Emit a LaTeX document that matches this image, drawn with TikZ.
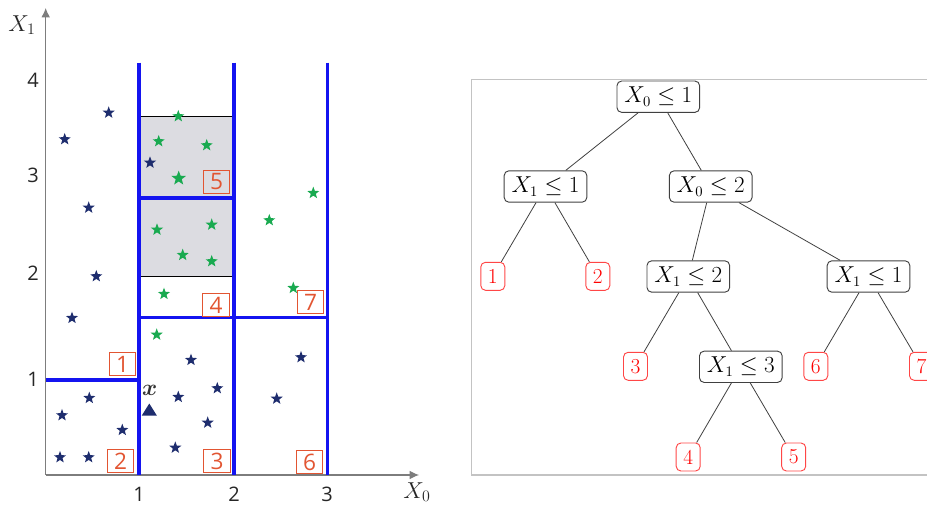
\documentclass[tikz,border=0pt]{standalone}
\usepackage{fontspec}
\usepackage{bm}
\newfontfamily\osans{Open Sans}
\usetikzlibrary{shapes.geometric,arrows.meta}
\definecolor{blueline}{RGB}{20,20,240}
\definecolor{navy}{RGB}{30,45,110}
\definecolor{greenst}{RGB}{25,170,80}
\definecolor{regred}{RGB}{226,85,50}
\definecolor{leafred}{RGB}{255,70,70}
\definecolor{boxgray}{RGB}{220,220,225}
\definecolor{axisgray}{RGB}{125,125,125}
\definecolor{framegray}{RGB}{195,195,195}
\tikzset{
  split/.style={draw=blueline, line width=2.3pt},
  navystar/.style={star, star points=5, star point ratio=2.4, fill=navy, minimum size=9.5pt, inner sep=0pt},
  greenstar/.style={star, star points=5, star point ratio=2.4, fill=greenst, minimum size=9.5pt, inner sep=0pt},
  regbox/.style={draw=regred, line width=0.9pt, text=regred, font=\osans\fontsize{17}{17}\selectfont, minimum width=20pt, minimum height=17pt, inner sep=0pt},
  ticklab/.style={font=\osans\fontsize{15}{15}\selectfont, text=black!85},
  axislab/.style={font=\fontsize{18}{18}\selectfont, text=black!85},
  axisline/.style={draw=axisgray, line width=0.8pt, -{Latex[length=7pt,width=6.5pt]}},
  tnode/.style={draw=black!75, rounded corners=3.5pt, line width=0.7pt, font=\fontsize{16}{19}\selectfont, minimum height=23.5pt, inner xsep=5.5pt, inner ysep=0pt},
  leaf/.style={draw=leafred, text=red, rounded corners=3.5pt, line width=0.7pt, minimum width=18pt, minimum height=21pt, inner sep=0pt, font=\fontsize{16}{19}\selectfont},
  edge/.style={draw=black!75, line width=0.6pt},
  xlabel/.style={font=\fontsize{16}{16}\selectfont, text=black!80}
}
\begin{document}
\begin{tikzpicture}[x=0.75pt,y=-0.75pt]
\useasboundingbox (0,0) rectangle (927,506);
% ---------- left: partition plot ----------
\fill[boxgray] (140.3,116.3) rectangle (233.7,276);
\draw[black, line width=0.7pt] (140.3,116.3) rectangle (233.7,276);
% axes
\coordinate (o) at (45.7,475);
\coordinate (ytop) at (45.7,8);
\coordinate (xend) at (419,475);
\draw[axisline] (o) -- (ytop);
\draw[axisline] (o) -- (xend);
% splits
\draw[split] (139,62.7) -- (139,475);
\draw[split] (234,62.7) -- (234,475);
\draw[split] (327.3,62.7) -- (327.3,475);
\draw[split] (45.7,380) -- (139,380);
\draw[split] (139,317.7) -- (327.3,317.7);
\draw[split] (139,198) -- (234,198);
% tick labels
\node[ticklab] (t1) at (139,494) {1};
\node[ticklab] (t2) at (234,494) {2};
\node[ticklab] (t3) at (327,494) {3};
\node[ticklab] (y1) at (33,379) {1};
\node[ticklab] (y2) at (33,273) {2};
\node[ticklab] (y3) at (33,175) {3};
\node[ticklab] (y4) at (33,80) {4};
\node[axislab] (lx0) at (417,492) {$X_0$};
\node[axislab] (lx1) at (22,25) {$X_1$};
% navy stars
\foreach \px/\py [count=\i] in {108.7/112.7, 64.7/139.3, 88.7/207.7, 96.3/276.3, 72/318, 89.3/398, 62/415.3, 122.3/430, 60/457.3, 88.7/457.3, 191/360, 217.3/388.3, 178.3/397, 207.7/422.7, 175.3/447.7, 150/162.7, 301/357.3, 276.7/398.7}
  {\node[navystar] (n\i) at (\px,\py) {};}
% green stars
\foreach \px/\py [count=\i] in {178.3/116.3, 158.7/141.3, 206.7/145.3, 157/229.7, 211.7/224.7, 182.7/255, 211.7/261.3, 164/294, 156.7/334.7, 269.3/220.3, 313.3/193, 293.3/288}
  {\node[greenstar] (g\i) at (\px,\py) {};}
\node[greenstar, minimum size=11.5pt] (gbig) at (178.7,178.3) {};
% query point
\fill[navy] (141.8,415.5) -- (156.8,415.5) -- (149.3,403.5) -- cycle;
\node[xlabel] (xlab) at (149.7,390) {$\bm{x}$};
% region labels
\node[regbox] (r1) at (122.5,364) {1};
\node[regbox] (r2) at (120.5,461) {2};
\node[regbox] (r3) at (217,461) {3};
\node[regbox] (r4) at (216,305) {4};
\node[regbox] (r5) at (216.5,182) {5};
\node[regbox] (r6) at (309.5,462) {6};
\node[regbox] (r7) at (310.5,302) {7};
% ---------- right: tree ----------
\draw[framegray, line width=0.8pt] (930,79.3) -- (471.3,79.3) -- (471.3,475) -- (930,475);
\node[tnode] (root) at (658.3,96.7) {$X_0\leq 1$};
\node[tnode] (a) at (545.5,186.5) {$X_1\leq 1$};
\node[tnode] (b) at (710.7,186.5) {$X_0\leq 2$};
\node[tnode] (c) at (688.3,276.5) {$X_1\leq 2$};
\node[tnode] (d) at (868.5,276.5) {$X_1\leq 1$};
\node[tnode] (e) at (740.8,366.8) {$X_1\leq 3$};
\node[leaf] (l1) at (492.8,276.3) {1};
\node[leaf] (l2) at (597.8,276.3) {2};
\node[leaf] (l3) at (635.5,366.3) {3};
\node[leaf] (l6) at (815.8,366.3) {6};
\node[leaf] (l7) at (921.5,366.3) {7};
\node[leaf] (l4) at (688.2,457) {4};
\node[leaf] (l5) at (793.7,457) {5};
\draw[edge] (root) -- (a);
\draw[edge] (root) -- (b);
\draw[edge] (a) -- (l1);
\draw[edge] (a) -- (l2);
\draw[edge] (b) -- (c);
\draw[edge] (b) -- (d);
\draw[edge] (c) -- (l3);
\draw[edge] (c) -- (e);
\draw[edge] (d) -- (l6);
\draw[edge] (d) -- (l7);
\draw[edge] (e) -- (l4);
\draw[edge] (e) -- (l5);
\end{tikzpicture}
\end{document}
